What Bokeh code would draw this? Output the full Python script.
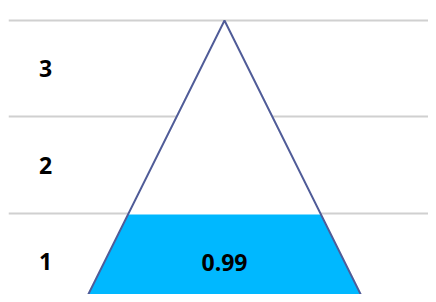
from bokeh.plotting import figure
from bokeh.models import FixedTicker
from bokeh.core.properties import value
from bokeh.embed import file_html
from bokeh.resources import INLINE

# Data
levels = ["1", "2", "3"]
level_pos = [0.5, 1.5, 2.5]
fill_value = 0.99
fill_label = "0.99"
n_levels = 3

W, H = 428, 294
p = figure(width=W, height=H, output_backend="svg", toolbar_location=None,
           x_range=(-1.5, 1.4167), y_range=(0.161, 3.207),
           min_border=0, min_border_left=8, min_border_right=0,
           min_border_top=0, min_border_bottom=0)
p.outline_line_color = None
p.axis.visible = False
p.xgrid.visible = False
p.ygrid.ticker = FixedTicker(ticks=[1, 2, 3])
p.ygrid.grid_line_color = "#D0D0D0"
p.ygrid.grid_line_width = 2
p.background_fill_color = "white"
p.border_fill_color = "white"

def half_width(y):
    return 1 - y / n_levels

# triangle interior (white, hides grid)
p.patch([-1, 0, 1], [0, n_levels, 0], fill_color="white", line_color=None)
# filled part
hw = half_width(fill_value)
p.patch([-1, -hw, hw, 1], [0, fill_value, fill_value, 0],
        fill_color="#00B8FF", line_color=None)
# outline
p.line([-1, 0, 1], [0, n_levels, 0], line_color="#505C98", line_width=2)

# level labels
p.text(x=[-1.243] * len(levels), y=level_pos, text=levels,
       text_font=value("Open Sans"), text_font_style="bold", text_font_size="23px",
       text_color="black", text_align="center", text_baseline="middle")
# value label
p.text(x=[0], y=[fill_value / 2], text=[fill_label],
       text_font=value("Open Sans"), text_font_style="bold", text_font_size="23px",
       text_color="black", text_align="center", text_baseline="middle")

open("out.html", "w").write(file_html(p, INLINE))
